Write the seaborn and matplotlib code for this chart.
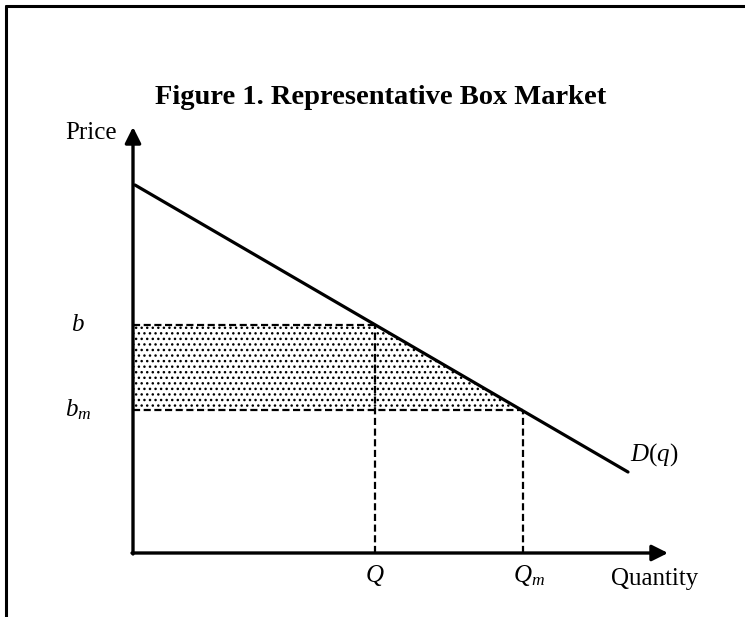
import matplotlib
matplotlib.use("Agg")
import matplotlib.pyplot as plt
import seaborn as sns
import pandas as pd
from matplotlib.lines import Line2D

# demand curve end points (quantity, price)
demand_q = [0.2, 49.5]
demand_p = [36.8, 8.1]

# market points
Q = 24.2
Q_m = 39.0
b = 22.8
b_m = 14.3

# axis extents
x_end = 53.5
y_end = 42.6

sns.set_theme(style="white")
plt.rcParams["font.family"] = ["Liberation Serif", "DejaVu Serif"]
plt.rcParams["mathtext.fontset"] = "custom"
plt.rcParams["mathtext.it"] = "Liberation Serif:italic"
plt.rcParams["mathtext.rm"] = "Liberation Serif"
plt.rcParams["hatch.linewidth"] = 1.0
plt.rcParams["text.color"] = "black"

fig = plt.figure(figsize=(7.45, 6.17), dpi=100)
ax = fig.add_axes([0, 0, 1, 1])
ax.set_xlim(-13.3, 61.2)
ax.set_ylim(-6.4, 55.3)
ax.axis("off")

# shaded area under demand between b and b_m
ax.fill_between([0, Q, Q_m], [b, b, b_m], b_m, facecolor="none",
                edgecolor="black", hatch="...", linewidth=0)

demand = pd.DataFrame({"q": demand_q, "p": demand_p})
sns.lineplot(data=demand, x="q", y="p", ax=ax, color="black", lw=2.3)

dash = dict(color="black", lw=1.6, linestyle=(0, (3.2, 1.6)))
ax.plot([0, Q], [b, b], **dash)
ax.plot([0, Q_m], [b_m, b_m], **dash)
ax.plot([Q, Q], [0, b], **dash)
ax.plot([Q_m, Q_m], [0, b_m], **dash)

arrow = dict(arrowstyle="-|>", lw=2.4, color="black", mutation_scale=24,
             shrinkA=0, shrinkB=0)
ax.annotate("", xy=(0, y_end), xytext=(0, -0.1), arrowprops=arrow)
ax.annotate("", xy=(x_end, 0), xytext=(-0.1, 0), arrowprops=arrow)

ax.text(24.8, 45.5, "Figure 1. Representative Box Market", ha="center",
        va="center", fontsize=20.5, fontweight="bold")
ax.text(-1.6, 42.0, "Price", ha="right", va="center", fontsize=18)
ax.text(47.8, -2.6, "Quantity", ha="left", va="center", fontsize=18)
ax.text(-5.5, b, r"$b$", ha="center", va="center", fontsize=18)
ax.text(-5.5, b_m, r"$b_m$", ha="center", va="center", fontsize=18)
ax.text(Q, -2.3, r"$Q$", ha="center", va="center", fontsize=18)
ax.text(Q_m + 0.6, -2.3, r"$Q_m$", ha="center", va="center", fontsize=18)
ax.text(49.7, 9.8, r"$D(q)$", ha="left", va="center", fontsize=18)

# page frame (top and left edges)
fig.add_artist(Line2D([6 / 745, 1], [1 - 6 / 617, 1 - 6 / 617],
                      transform=fig.transFigure, color="black", lw=2.2))
fig.add_artist(Line2D([6 / 745, 6 / 745], [0, 1 - 6 / 617],
                      transform=fig.transFigure, color="black", lw=2.2))

fig.savefig("out.png", dpi=100)
